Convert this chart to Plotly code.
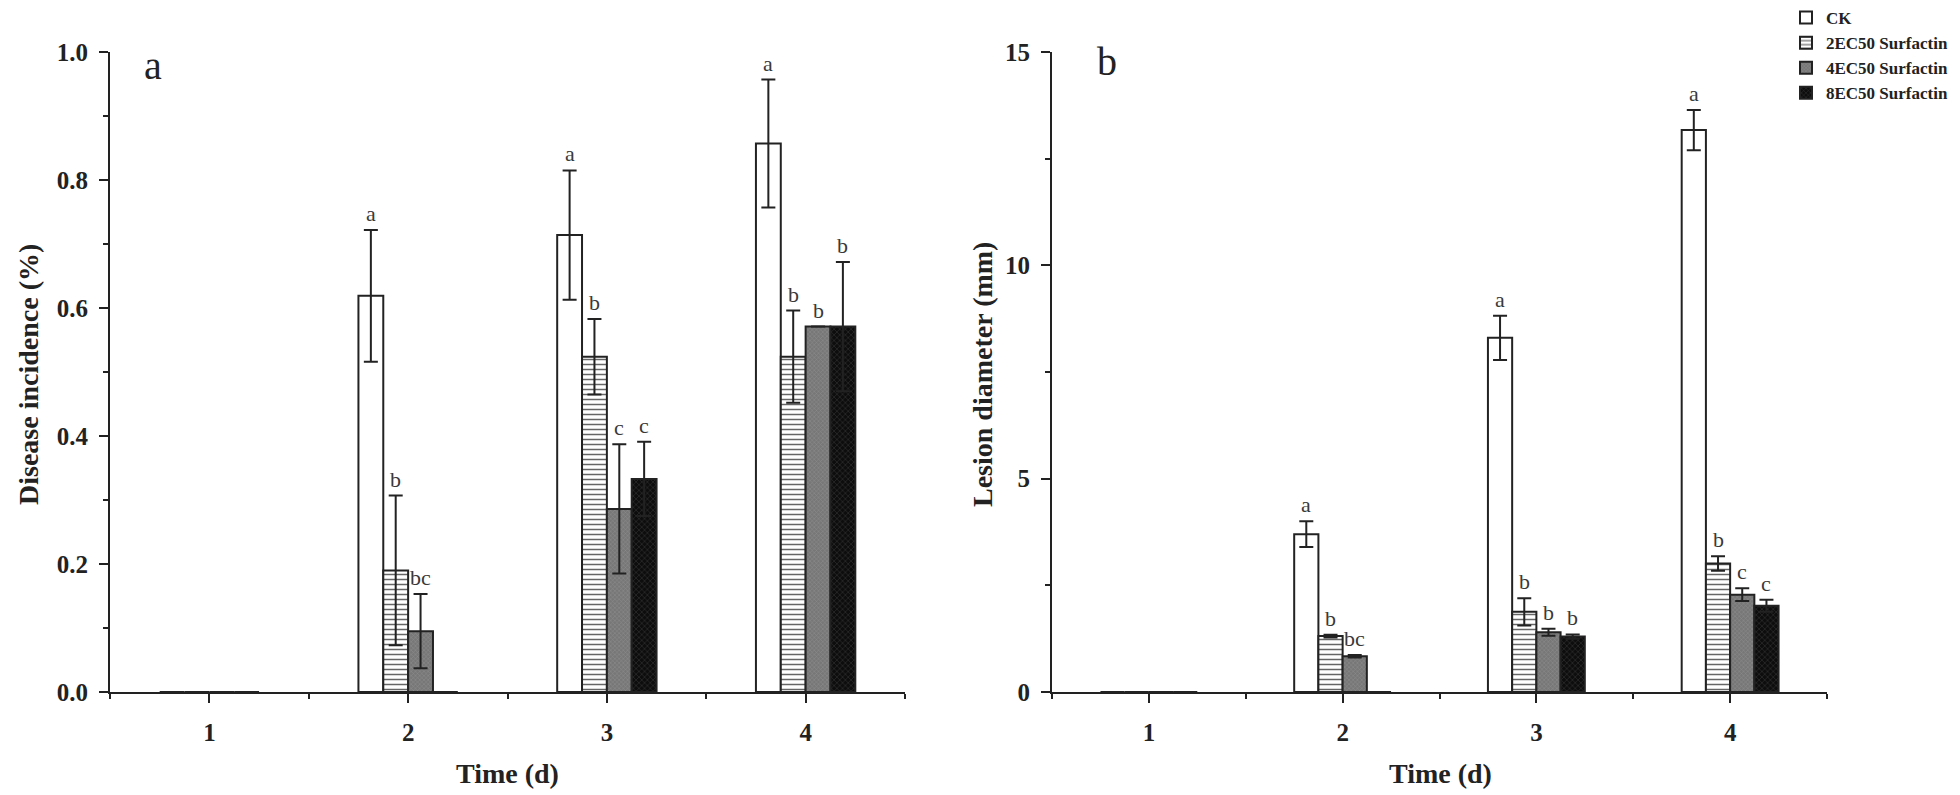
import plotly.graph_objects as go

# Days and treatments
days = [1, 2, 3, 4]
series_names = ["CK", "2EC50 Surfactin", "4EC50 Surfactin", "8EC50 Surfactin"]

# Panel a: disease incidence
incidence_ck = [0, 0.619, 0.714, 0.857]
incidence_2ec = [0, 0.190, 0.524, 0.524]
incidence_4ec = [0, 0.095, 0.286, 0.571]
incidence_8ec = [0, 0, 0.333, 0.571]
incidence_err_ck = [0, 0.103, 0.101, 0.100]
incidence_err_2ec = [0, 0.117, 0.059, 0.072]
incidence_err_4ec = [0, 0.058, 0.101, 0]
incidence_err_8ec = [0, 0, 0.058, 0.101]
incidence_letters_ck = ["", "a", "a", "a"]
incidence_letters_2ec = ["", "b", "b", "b"]
incidence_letters_4ec = ["", "bc", "c", "b"]
incidence_letters_8ec = ["", "", "c", "b"]

# Panel b: lesion diameter
lesion_ck = [0, 3.70, 8.30, 13.17]
lesion_2ec = [0, 1.31, 1.88, 3.01]
lesion_4ec = [0, 0.84, 1.40, 2.28]
lesion_8ec = [0, 0, 1.30, 2.02]
lesion_err_ck = [0, 0.30, 0.52, 0.47]
lesion_err_2ec = [0, 0.03, 0.32, 0.17]
lesion_err_4ec = [0, 0.03, 0.08, 0.15]
lesion_err_8ec = [0, 0, 0.05, 0.14]
lesion_letters_ck = ["", "a", "a", "a"]
lesion_letters_2ec = ["", "b", "b", "b"]
lesion_letters_4ec = ["", "bc", "b", "c"]
lesion_letters_8ec = ["", "", "b", "c"]

SERIF = "Liberation Serif, Times New Roman, serif"
INK = "#222222"
BARGAP = 0.5
W, H = 1960, 795

# Fill styles for the four treatments
styles = [
    dict(color="white", pattern=dict(shape="")),
    dict(color="white", pattern=dict(shape="-", fgcolor="#666666", bgcolor="white",
                                     size=5, solidity=0.3)),
    dict(color="#7d7d7d", pattern=dict(shape="x", fgcolor="#8f8f8f", bgcolor="#777777",
                                       size=3, solidity=0.3)),
    dict(color="#111111", pattern=dict(shape="x", fgcolor="#444444", bgcolor="#0d0d0d",
                                       size=4, solidity=0.2)),
]

panels = [
    dict(
        xaxis="x", yaxis="y",
        values=[incidence_ck, incidence_2ec, incidence_4ec, incidence_8ec],
        errors=[incidence_err_ck, incidence_err_2ec, incidence_err_4ec, incidence_err_8ec],
        letters=[incidence_letters_ck, incidence_letters_2ec,
                 incidence_letters_4ec, incidence_letters_8ec],
    ),
    dict(
        xaxis="x2", yaxis="y2",
        values=[lesion_ck, lesion_2ec, lesion_4ec, lesion_8ec],
        errors=[lesion_err_ck, lesion_err_2ec, lesion_err_4ec, lesion_err_8ec],
        letters=[lesion_letters_ck, lesion_letters_2ec,
                 lesion_letters_4ec, lesion_letters_8ec],
    ),
]

fig = go.Figure()
annotations = []

n = len(series_names)
bar_w = (1 - BARGAP) / n

for p_idx, panel in enumerate(panels):
    for i, name in enumerate(series_names):
        st = styles[i]
        fig.add_trace(
            go.Bar(
                x=days,
                y=panel["values"][i],
                name=name,
                xaxis=panel["xaxis"],
                yaxis=panel["yaxis"],
                showlegend=(p_idx == 1),
                marker=dict(
                    color=st["color"],
                    pattern=st["pattern"],
                    line=dict(color=INK, width=2),
                ),
                error_y=dict(
                    type="data",
                    array=panel["errors"][i],
                    color=INK,
                    thickness=2,
                    width=7,
                ),
            )
        )
        # significance letters above each error bar
        offset = (i - (n - 1) / 2) * bar_w
        for d, v, e, lab in zip(days, panel["values"][i], panel["errors"][i],
                                panel["letters"][i]):
            if not lab:
                continue
            annotations.append(dict(
                x=d + offset, y=v + e, xref=panel["xaxis"], yref=panel["yaxis"],
                text=lab, showarrow=False,
                xanchor="center", yanchor="bottom", yshift=2,
                font=dict(family=SERIF, size=22, color="#3a3a3a"),
            ))


def px_anno(x, y, text, font, angle=0):
    return dict(x=x / W, y=1 - y / H, xref="paper", yref="paper", text=text,
                showarrow=False, textangle=angle, font=font,
                xanchor="center", yanchor="middle")


# Panel letters
letter_font = dict(family=SERIF, size=40, color=INK)
annotations.append(px_anno(153, 66, "a", letter_font))
annotations.append(px_anno(1107, 62, "b", letter_font))

# Axis titles
title_font = dict(family=SERIF, size=28, color=INK, weight="bold")
annotations.append(px_anno(507, 773, "Time (d)", title_font))
annotations.append(px_anno(1440, 773, "Time (d)", title_font))
annotations.append(px_anno(28, 375, "Disease incidence (%)", title_font, -90))
annotations.append(px_anno(982, 375, "Lesion diameter (mm)", title_font, -90))

tick_font = dict(family=SERIF, size=25, color=INK, weight="bold")

xaxis_common = dict(
    range=[0.5, 4.5],
    tickvals=days,
    ticktext=[str(d) for d in days],
    showline=True, linecolor=INK, linewidth=2,
    ticks="outside", ticklen=9, tickwidth=2, tickcolor=INK,
    minor=dict(tick0=0.5, dtick=1, ticks="outside", ticklen=5, tickwidth=2,
               tickcolor=INK),
    ticklabelstandoff=8,
    showgrid=False, zeroline=False,
    tickfont=tick_font,
    automargin=False,
)

yaxis_common = dict(
    showline=True, linecolor=INK, linewidth=2,
    ticks="outside", ticklen=9, tickwidth=2, tickcolor=INK,
    ticklabelstandoff=6,
    showgrid=False, zeroline=False,
    tickfont=tick_font,
    automargin=False,
)

y_dom = [1 - 692 / H, 1 - 52 / H]

fig.update_layout(
    template="none",
    width=W,
    height=H,
    paper_bgcolor="white",
    plot_bgcolor="white",
    margin=dict(l=0, r=0, t=0, b=0, autoexpand=False),
    barmode="group",
    bargap=BARGAP,
    bargroupgap=0,
    font=dict(family=SERIF, color=INK),
    xaxis=dict(domain=[110 / W, 905 / W], anchor="y", **xaxis_common),
    yaxis=dict(domain=y_dom, anchor="x", range=[0, 1.0], dtick=0.2, tickformat=".1f",
               minor=dict(dtick=0.1, ticks="outside", ticklen=5, tickwidth=2,
                          tickcolor=INK),
               **yaxis_common),
    xaxis2=dict(domain=[1052 / W, 1827 / W], anchor="y2", **xaxis_common),
    yaxis2=dict(domain=y_dom, anchor="x2", range=[0, 15], dtick=5,
                minor=dict(dtick=2.5, ticks="outside", ticklen=5, tickwidth=2,
                           tickcolor=INK),
                **yaxis_common),
    legend=dict(
        x=1786 / W, y=1.0, xanchor="left", yanchor="top",
        font=dict(family=SERIF, size=17, color=INK, weight="bold"),
        bgcolor="rgba(0,0,0,0)",
        tracegroupgap=0,
        itemwidth=30,
    ),
    annotations=annotations,
)

# drop the default page margin so the figure sits at the window's corner
fig.write_html(
    "out.html",
    config={"displayModeBar": False},
    post_script="document.body.style.margin='0';document.body.style.overflow='hidden';",
)
